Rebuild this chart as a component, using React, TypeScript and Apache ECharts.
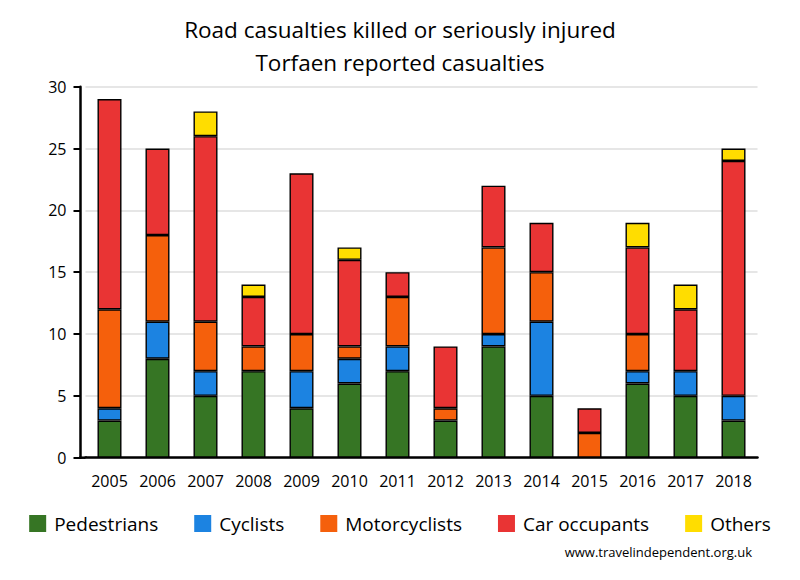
import React, { useEffect, useRef } from "react";
import * as echarts from "echarts";

const years = ["2005","2006","2007","2008","2009","2010","2011","2012","2013","2014","2015","2016","2017","2018"];
const pedestrians = [3, 8, 5, 7, 4, 6, 7, 3, 9, 5, 0, 6, 5, 3];
const cyclists = [1, 3, 2, 0, 3, 2, 2, 0, 1, 6, 0, 1, 2, 2];
const motorcyclists = [8, 7, 4, 2, 3, 1, 4, 1, 7, 4, 2, 3, 0, 0];
const carOccupants = [17, 7, 15, 4, 13, 7, 2, 5, 5, 4, 2, 7, 5, 19];
const others = [0, 0, 2, 1, 0, 1, 0, 0, 0, 0, 0, 2, 2, 1];
const yTicks = [0, 5, 10, 15, 20, 25, 30];

const seriesDefs = [
  { name: "Pedestrians", data: pedestrians, color: "#367524" },
  { name: "Cyclists", data: cyclists, color: "#1c83e1" },
  { name: "Motorcyclists", data: motorcyclists, color: "#f5600c" },
  { name: "Car occupants", data: carOccupants, color: "#e93434" },
  { name: "Others", data: others, color: "#ffdd00" },
];

const FONT = "'Open Sans', 'Noto Sans', sans-serif";

export default function App() {
  const ref = useRef<HTMLDivElement>(null);
  useEffect(() => {
    if (!ref.current) return;
    const chart = echarts.init(ref.current, null, { renderer: "svg" });
    chart.setOption({
      animation: false,
      backgroundColor: "#ffffff",
      title: {
        text: "Road casualties killed or seriously injured\nTorfaen reported casualties",
        left: "center",
        top: 8,
        textStyle: { fontFamily: FONT, fontSize: 22.5, fontWeight: "normal", color: "#000", lineHeight: 33 },
      },
      legend: {
        bottom: 42,
        left: "center",
        itemWidth: 17,
        itemHeight: 17,
        itemGap: 36,
        icon: "rect",
        itemStyle: { borderWidth: 0 },
        textStyle: { fontFamily: FONT, fontSize: 19, color: "#000", padding: [0, 0, 0, 3] },
        data: seriesDefs.map((s) => s.name),
      },
      grid: { left: 85.5, right: 42.5, top: 86.7, bottom: 122.3, containLabel: false },
      xAxis: {
        type: "category",
        data: years,
        axisLine: { lineStyle: { color: "#000", width: 2.5 } },
        axisTick: { show: false },
        axisLabel: { color: "#000", fontFamily: FONT, fontSize: 16, margin: 15 },
      },
      yAxis: {
        type: "value",
        min: 0,
        max: 30,
        interval: 5,
        offset: 5,
        axisLine: { show: true, lineStyle: { color: "#000", width: 2.5 } },
        axisTick: { show: true, length: 7, lineStyle: { color: "#000", width: 2 } },
        axisLabel: {
          color: "#000",
          fontFamily: FONT,
          fontSize: 16,
          margin: 14,
          formatter: (v: number) => (yTicks.includes(v) ? String(v) : ""),
        },
        splitLine: { lineStyle: { color: "#e6e6e6", width: 2 } },
      },
      graphic: [
        {
          type: "line",
          shape: { x1: 79, y1: 457.7, x2: 87, y2: 457.7 },
          style: { stroke: "#000", lineWidth: 2.5 },
          silent: true,
        },
        {
          type: "text",
          right: 48,
          top: 545,
          style: { text: "www.travelindependent.org.uk", fontFamily: FONT, fontSize: 13, fill: "#000" },
        },
      ],
      series: seriesDefs.map((s) => ({
        name: s.name,
        type: "bar",
        stack: "total",
        barWidth: 24,
        data: s.data.map((v) => (v === 0 ? null : v)),
        itemStyle: { color: s.color, borderColor: "#000", borderWidth: 1.4 },
      })),
    });
    return () => chart.dispose();
  }, []);
  return <div ref={ref} style={{ width: 800, height: 580, margin: -8 }} />;
}
